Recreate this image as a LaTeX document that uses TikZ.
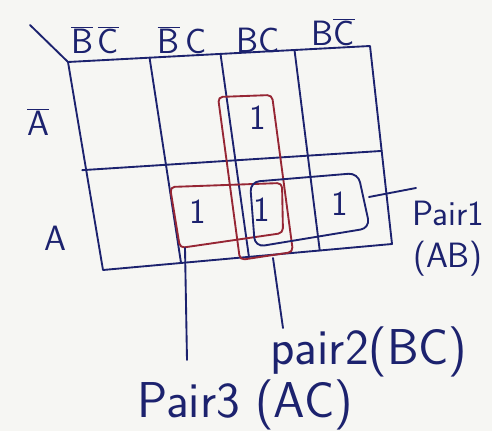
\documentclass[tikz,border=0pt]{standalone}
\usepackage{tikz}
\usetikzlibrary{calc, positioning}

\definecolor{ink}{RGB}{28,34,110}
\definecolor{redink}{RGB}{150,38,52}
\definecolor{paper}{RGB}{246,246,243}

\begin{document}
\begin{tikzpicture}[x=0.03cm, y=-0.03cm,
        line width=1.6pt, ink, line join=round, line cap=round,
        hand/.style={font=\sffamily\fontsize{30}{32}\selectfont, text=ink, inner sep=0pt},
        big/.style={font=\sffamily\fontsize{43}{45}\selectfont, text=ink, inner sep=0pt},
        one/.style={hand},
        loop/.style={draw=redink, rounded corners=4pt}]
        \fill[paper] (0,0) rectangle (492,431);
        \useasboundingbox (0,0) rectangle (492,431);

        % map corners
        \coordinate (tl) at (68,62);
        \coordinate (tr) at (370,46);
        \coordinate (bl) at (103,270);
        \coordinate (br) at (392,244);
        \coordinate (corner) at (30,25);

        \draw (corner) -- (tl);
        \draw (tl) -- (tr) -- (br) -- (bl) -- cycle;
        \foreach \f in {0.27, 0.505, 0.75}
            \draw ($(tl)!\f!(tr)$) -- ($(bl)!\f!(br)$);
        \draw ($(tl)!0.52!(bl) + (-4,0)$) -- ($(tr)!0.53!(br)$);

        % column and row labels
        \node (bnbn) [hand] at (95,40) {$\overline{\textsf{B}}\,\overline{\textsf{C}}$};
        \node (bnc) [hand] at (182,40) {$\overline{\textsf{B}}$\,C};
        \node (bc) [hand] at (258,40) {BC};
        \node (bcn) [hand] at (333,32) {B$\overline{\textsf{C}}$};
        \node (an) [hand] at (38,122) {$\overline{\textsf{A}}$};
        \node (a) [hand] at (55,238) {A};

        % cells
        \node (m2) [one] at (258,118) {1};
        \node (m5) [one] at (198,212) {1};
        \node (m7) [one] at (262,210) {1};
        \node (m6) [one] at (340,204) {1};

        % pairs
        \draw[loop] (218,97) -- (272,95) -- (293,252) -- (240,260) -- cycle;
        \draw[loop] (170,187) -- (282,183) -- (283,233) -- (180,248) -- cycle;
        \draw[rounded corners=8pt] (250,182) -- (358,173) -- (370,228) -- (255,247) -- cycle;

        % pair labels
        \node (p1) [hand] at (448,213) {Pair1};
        \node (ab) [hand, below=12pt of p1] {(AB)};
        \node (p2) [big] at (369,352) {pair2(BC)};
        \node (p3) [big] at (245,405) {Pair3 (AC)};

        \coordinate (e1) at (369,197);
        \coordinate (e2) at (273,258);
        \coordinate (e3) at (185,248);
        \draw (e1) -- (416,188);
        \draw (e2) -- (283,328);
        \draw (e3) -- (187,360);
    \end{tikzpicture}
\end{document}
